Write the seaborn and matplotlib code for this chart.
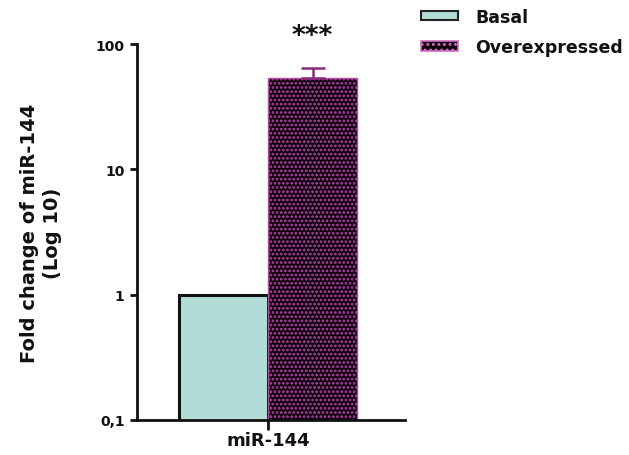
import matplotlib
matplotlib.use("Agg")
import matplotlib.pyplot as plt
import seaborn as sns
import pandas as pd
import numpy as np
from matplotlib.patches import Patch

categories = ["miR-144"]
groups = ["Basal", "Overexpressed"]
means = [1.0, 54.0]
sds = [0.0, 11.0]
y_ticks = [0.1, 1, 10, 100]
y_tick_labels = ["0,1", "1", "10", "100"]
significance = "***"

sns.set_theme(style="white")
plt.rcParams["font.family"] = ["DejaVu Sans"]
plt.rcParams["font.weight"] = "bold"
plt.rcParams["hatch.linewidth"] = 1.3
plt.rcParams["text.color"] = "#111111"

df = pd.DataFrame({"cat": categories * len(groups), "group": groups, "value": means})

fig = plt.figure(figsize=(6.29, 4.56), dpi=100)
ax = fig.add_axes([0.218, 0.077, 0.426, 0.824])

face = ["#b2ddd6", "#120010"]
edge = ["#111111", "#b04aa2"]
sns.barplot(data=df, x="cat", y="value", hue="group", hue_order=groups,
            palette=face, errorbar=None, width=0.8, ax=ax, legend=False,
            saturation=1)

for i, p in enumerate(ax.patches[:2]):
    p.set_edgecolor(edge[i])
    p.set_linewidth(2.2 if i == 0 else 1.0)
    if i == 1:
        p.set_hatch("....")
    xc = p.get_x() + p.get_width() / 2
    if sds[i] > 0:
        ax.errorbar(xc, means[i], yerr=[[0], [sds[i]]], fmt="none",
                    ecolor="#8a2a7c", elinewidth=1.8, capsize=8.5, capthick=1.8,
                    zorder=1)

ax.set_yscale("log")
ax.set_ylim(0.1, 100)
ax.set_xlim(-0.589, 0.616)
ax.set_yticks(y_ticks)
ax.set_yticklabels(y_tick_labels)
ax.yaxis.set_minor_locator(matplotlib.ticker.NullLocator())

# significance stars
p1 = ax.patches[1]
ax.text(p1.get_x() + p1.get_width() / 2, 117, significance, ha="center",
        va="center", fontsize=19, fontweight="bold", color="#111111",
        clip_on=False)

for s in ["top", "right"]:
    ax.spines[s].set_visible(False)
for s in ["left", "bottom"]:
    ax.spines[s].set_linewidth(2)
    ax.spines[s].set_color("#111111")

ax.tick_params(axis="y", which="major", direction="out", length=5, width=2,
               left=True, labelsize=10, colors="#111111", pad=4)
ax.tick_params(axis="x", direction="out", length=7, width=2, bottom=True,
               labelsize=13, colors="#111111", pad=1)
for lbl in ax.get_xticklabels() + ax.get_yticklabels():
    lbl.set_fontweight("bold")

ax.set_xlabel("")
ax.set_ylabel("Fold change of miR-144\n(Log 10)", fontsize=14,
              fontweight="bold", color="#111111", linespacing=1.3)
ax.yaxis.set_label_coords(-0.28, 0.5)

handles = [Patch(facecolor=face[0], edgecolor="#222222", linewidth=1.5),
           Patch(facecolor=face[1], edgecolor="#d070c0", linewidth=1.2, hatch="...")]
leg = fig.legend(handles, groups, loc="upper left", bbox_to_anchor=(0.645, 1.015),
                 frameon=False, handlelength=2.1, handleheight=0.45,
                 labelspacing=0.72, handletextpad=1.0,
                 prop={"weight": "bold", "size": 12.5})
for t in leg.get_texts():
    t.set_color("#111111")

fig.savefig("out.png", dpi=100)
